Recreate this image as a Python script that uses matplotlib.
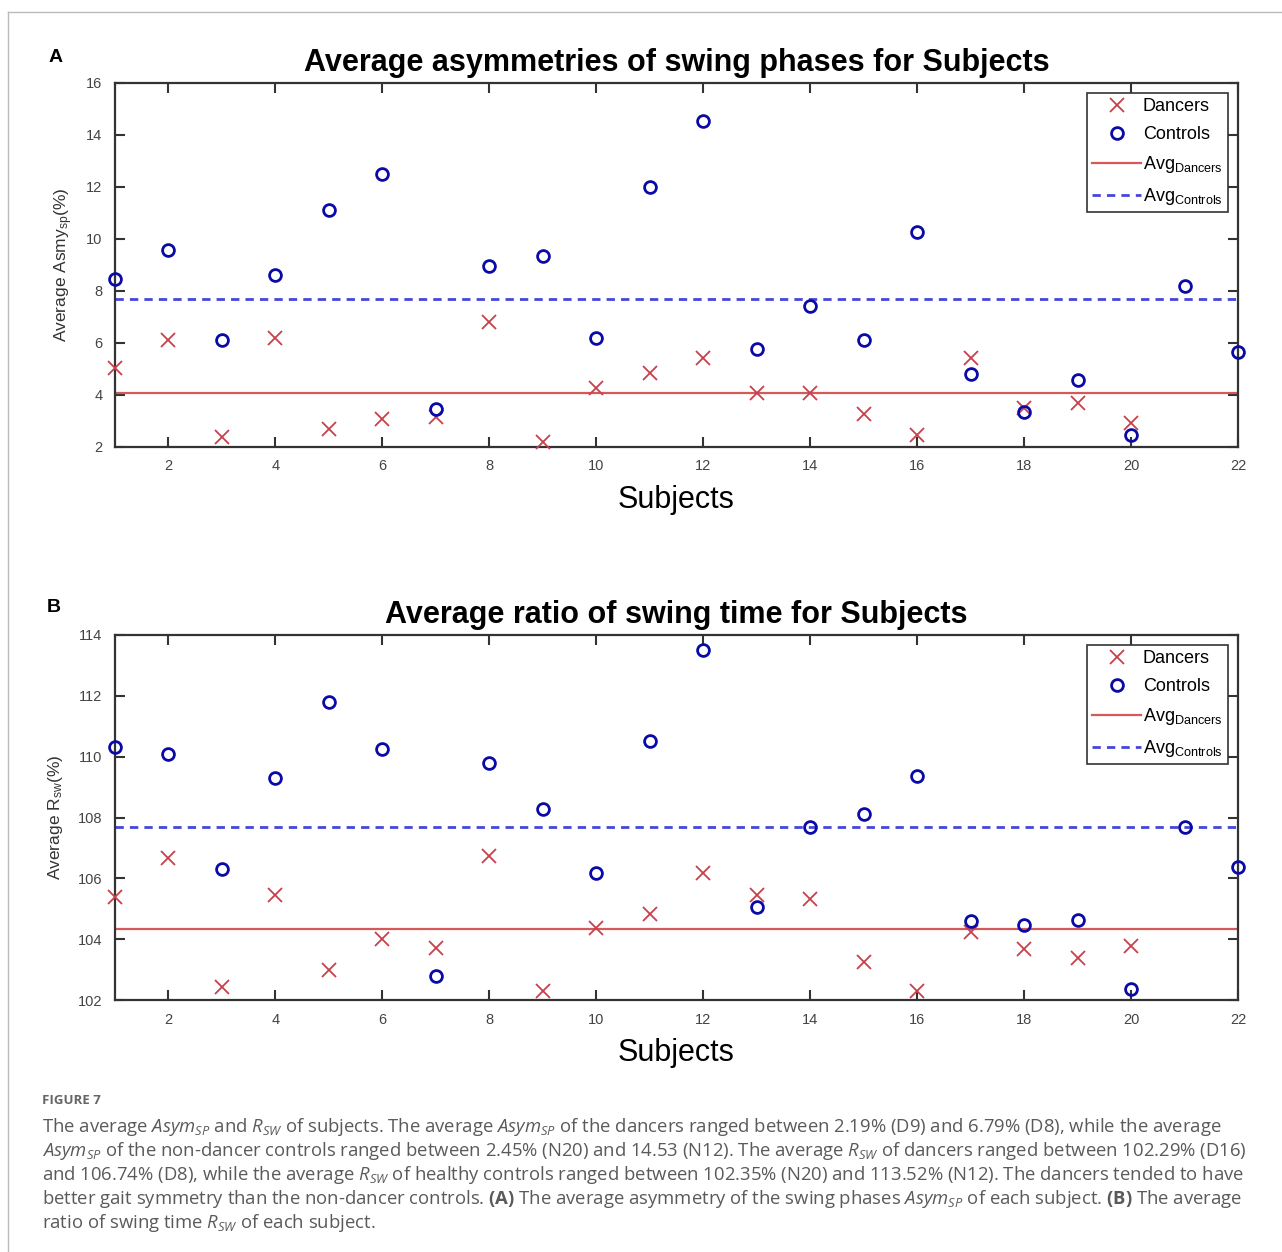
import numpy as np
import matplotlib
matplotlib.use("Agg")
import matplotlib.pyplot as plt
from matplotlib.lines import Line2D

plt.rcParams['font.family'] = ['Liberation Sans', 'DejaVu Sans']
plt.rcParams['mathtext.fontset'] = 'custom'
plt.rcParams['mathtext.rm'] = 'Open Sans'
plt.rcParams['mathtext.it'] = 'Open Sans:italic'
plt.rcParams['mathtext.bf'] = 'Open Sans:bold'

# subject numbers (20 dancers, 22 controls)
dancer_ids = np.arange(1, 21)
control_ids = np.arange(1, 23)

# swing phase asymmetry (%)
asym_dancers = [5.04, 6.12, 2.40, 6.20, 2.68, 3.06, 3.14, 6.79, 2.19, 4.28,
                4.83, 5.43, 4.09, 4.09, 3.28, 2.45, 5.43, 3.51, 3.70, 2.94]
asym_controls = [8.46, 9.56, 6.13, 8.61, 11.12, 12.50, 3.45, 8.97, 9.35, 6.20, 12.01,
                 14.53, 5.77, 7.43, 6.10, 10.26, 4.81, 3.34, 4.57, 2.45, 8.20, 5.64]

# ratio of swing time (%)
rsw_dancers = [105.38, 106.68, 102.42, 105.45, 102.99, 104.01, 103.70, 106.74, 102.31, 104.36,
               104.82, 106.19, 105.45, 105.31, 103.26, 102.29, 104.25, 103.67, 103.39, 103.78]
rsw_controls = [110.33, 110.08, 106.30, 109.29, 111.80, 110.25, 102.79, 109.80, 108.27, 106.17, 110.53,
                113.52, 105.07, 107.68, 108.10, 109.38, 104.61, 104.45, 104.63, 102.35, 107.70, 106.38]

x_ticks = list(range(2, 23, 2))

RED = '#c8404a'
BLUE = '#0a0aa8'
RED_LINE = '#d45a5a'
BLUE_LINE = '#4646dc'
AX_COL = '#333333'
TICK_COL = '#444444'

W, H = 1282, 1252
fig = plt.figure(figsize=(W / 100, H / 100), dpi=100)
fig.patch.set_facecolor('white')


def px_axes(left, top, right, bottom):
    return fig.add_axes([left / W, 1 - bottom / H, (right - left) / W, (bottom - top) / H])


def panel(ax, dancers, controls, ylim, yticks, title, ylabel, ylab_x):
    ax.plot(dancer_ids, dancers, ls='none', marker='x', ms=9.5, mew=1.3, color=RED,
            label='Dancers', clip_on=False, zorder=3)
    ax.plot(control_ids, controls, ls='none', marker='o', ms=8.5, mew=2, mfc='none',
            color=BLUE, label='Controls', clip_on=False, zorder=3)
    ax.axhline(np.mean(dancers), color=RED_LINE, lw=1.6, label=r'Avg$_{\mathregular{Dancers}}$')
    ax.axhline(np.mean(controls), color=BLUE_LINE, lw=2, dashes=(3, 2.2),
               label=r'Avg$_{\mathregular{Controls}}$')

    ax.set_xlim(1, 22)
    ax.set_ylim(*ylim)
    ax.set_xticks(x_ticks)
    ax.set_yticks(yticks)
    ax.tick_params(direction='in', top=True, right=True, length=7, width=1.5,
                   color=AX_COL, labelsize=10.5, labelcolor=TICK_COL, pad=9)
    for s in ax.spines.values():
        s.set_color(AX_COL)
        s.set_linewidth(1.6)

    ax.set_title(title, fontsize=22, fontweight='bold', pad=9)
    ax.set_xlabel('Subjects', fontsize=22, labelpad=8)
    ax.set_ylabel(ylabel, fontsize=12.5, color='#333333')
    ax.yaxis.set_label_coords(ylab_x, 0.5)

    leg = ax.legend(loc='upper right', bbox_to_anchor=(1 - 10 / 1123, 1 - 10 / 364),
                    fontsize=13, numpoints=1, handlelength=2.7, handletextpad=0.1,
                    borderpad=0.3, labelspacing=0.6, borderaxespad=0, fancybox=False,
                    framealpha=1, edgecolor=AX_COL)
    leg.get_frame().set_linewidth(1.2)


axA = px_axes(115, 83, 1238, 447)
panel(axA, asym_dancers, asym_controls, (2, 16), range(2, 17, 2),
      'Average asymmetries of swing phases for Subjects',
      r'Average Asmy$_{\mathregular{sp}}$(%)', -0.0356)

axB = px_axes(115, 635, 1238, 1000)
panel(axB, rsw_dancers, rsw_controls, (102, 114), range(102, 115, 2),
      'Average ratio of swing time for Subjects',
      r'Average R$_{\mathregular{sw}}$(%)', -0.0445)

fig.text(49 / W, 1 - 57 / H, 'A', fontsize=14, fontweight='bold', va='center', ha='left')
fig.text(47 / W, 1 - 607 / H, 'B', fontsize=14, fontweight='bold', va='center', ha='left')

# page frame
fig.add_artist(Line2D([8 / W, 1], [1 - 12 / H, 1 - 12 / H], color='#bbbbbb', lw=1))
fig.add_artist(Line2D([8 / W, 8 / W], [0, 1 - 12 / H], color='#bbbbbb', lw=1))

# caption
cap_col = '#5a5a5a'
fig.text(42 / W, 1 - 1101 / H, 'FIGURE 7', family='Open Sans', fontsize=9.5,
         fontweight='bold', color='#666666', va='center')
caption = [
    r'The average $Asym_{SP}$ and $R_{SW}$ of subjects. The average $Asym_{SP}$ of the dancers ranged between 2.19% (D9) and 6.79% (D8), while the average',
    r'$Asym_{SP}$ of the non-dancer controls ranged between 2.45% (N20) and 14.53 (N12). The average $R_{SW}$ of dancers ranged between 102.29% (D16)',
    r'and 106.74% (D8), while the average $R_{SW}$ of healthy controls ranged between 102.35% (N20) and 113.52% (N12). The dancers tended to have',
    r'better gait symmetry than the non-dancer controls. $\mathbf{(A)}$ The average asymmetry of the swing phases $Asym_{SP}$ of each subject. $\mathbf{(B)}$ The average',
    r'ratio of swing time $R_{SW}$ of each subject.',
]
for i, line in enumerate(caption):
    fig.text(42 / W, 1 - (1127 + 24 * i) / H, line, family='Open Sans', fontsize=13.3,
             color=cap_col, va='center', ha='left')

fig.savefig('out.png', dpi=100, facecolor='white')
